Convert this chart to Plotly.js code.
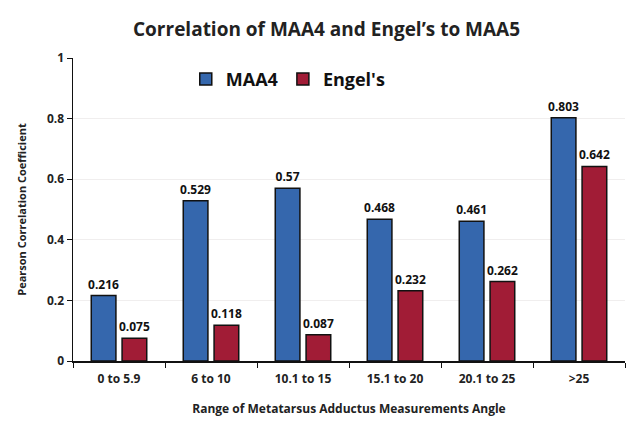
<!DOCTYPE html>
<html>
<head>
<meta charset="utf-8">
<script src="https://cdn.plot.ly/plotly-3.0.1.min.js"></script>
<style>html,body{margin:0;padding:0;background:#fff;}#chart{width:628px;height:444px;}</style>
</head>
<body>
<div id="chart"></div>
<script>
const categories = ["0 to 5.9", "6 to 10", "10.1 to 15", "15.1 to 20", "20.1 to 25", ">25"];
const maa4 = [0.216, 0.529, 0.57, 0.468, 0.461, 0.803];
const engels = [0.075, 0.118, 0.087, 0.232, 0.262, 0.642];
const yTicks = [0, 0.2, 0.4, 0.6, 0.8, 1];
const yTickLabels = ["0", "0.2", "0.4", "0.6", "0.8", "1"];

const fontFam = "Open Sans, Noto Sans, sans-serif";
const traces = [
  {
    type: "bar", name: "MAA4", x: categories, y: maa4,
    text: maa4.map(String), textposition: "outside", cliponaxis: false, constraintext: "none",
    textfont: {family: fontFam, size: 12, color: "#111", weight: "bold"},
    marker: {color: "#3567ad", line: {color: "#111", width: 1.5}}
  },
  {
    type: "bar", name: "Engel's", x: categories, y: engels,
    text: engels.map(String), textposition: "outside", cliponaxis: false, constraintext: "none",
    textfont: {family: fontFam, size: 12, color: "#111", weight: "bold"},
    marker: {color: "#a11c36", line: {color: "#111", width: 1.5}}
  }
];

const layout = {
  width: 628, height: 444,
  margin: {l: 73, r: 3, t: 58, b: 83},
  paper_bgcolor: "#fff", plot_bgcolor: "#fff",
  font: {family: fontFam, color: "#111"},
  title: {text: "<b>Correlation of MAA4 and Engel’s to MAA5</b>", x: 0.52, xanchor: "center", y: 0.935, yanchor: "middle",
          font: {family: fontFam, size: 19, color: "#222"}},
  barmode: "group", bargap: 0.33, bargroupgap: 0.2,
  showlegend: true,
  legend: {orientation: "h", x: 0.39, xanchor: "center", y: 0.93, yanchor: "middle",
           font: {family: fontFam, size: 18, color: "#111", weight: "bold"}, bgcolor: "rgba(0,0,0,0)", itemwidth: 30},
  xaxis: {
    showline: true, linecolor: "#111", linewidth: 1.5,
    ticks: "outside", ticklen: 5, tickcolor: "#111", tickson: "boundaries",
    ticklabelstandoff: 6,
    tickfont: {family: fontFam, size: 12, color: "#222", weight: "bold"},
    title: {text: "<b>Range of Metatarsus Adductus Measurements Angle</b>", standoff: 18,
            font: {family: fontFam, size: 12, color: "#222"}}
  },
  yaxis: {
    range: [0, 1], tickvals: yTicks, ticktext: yTickLabels,
    showline: true, linecolor: "#111", linewidth: 1.5,
    ticks: "outside", ticklen: 5, tickcolor: "#111",
    showgrid: true, gridcolor: "#f0eeee", gridwidth: 1, zeroline: false,
    tickfont: {family: fontFam, size: 12, color: "#222", weight: "bold"},
    title: {text: "<b>Pearson Correlation Coefficient</b>", standoff: 18,
            font: {family: fontFam, size: 11, color: "#222"}}
  }
};

Plotly.newPlot("chart", traces, layout, {displayModeBar: false, staticPlot: true});
</script>
</body>
</html>
